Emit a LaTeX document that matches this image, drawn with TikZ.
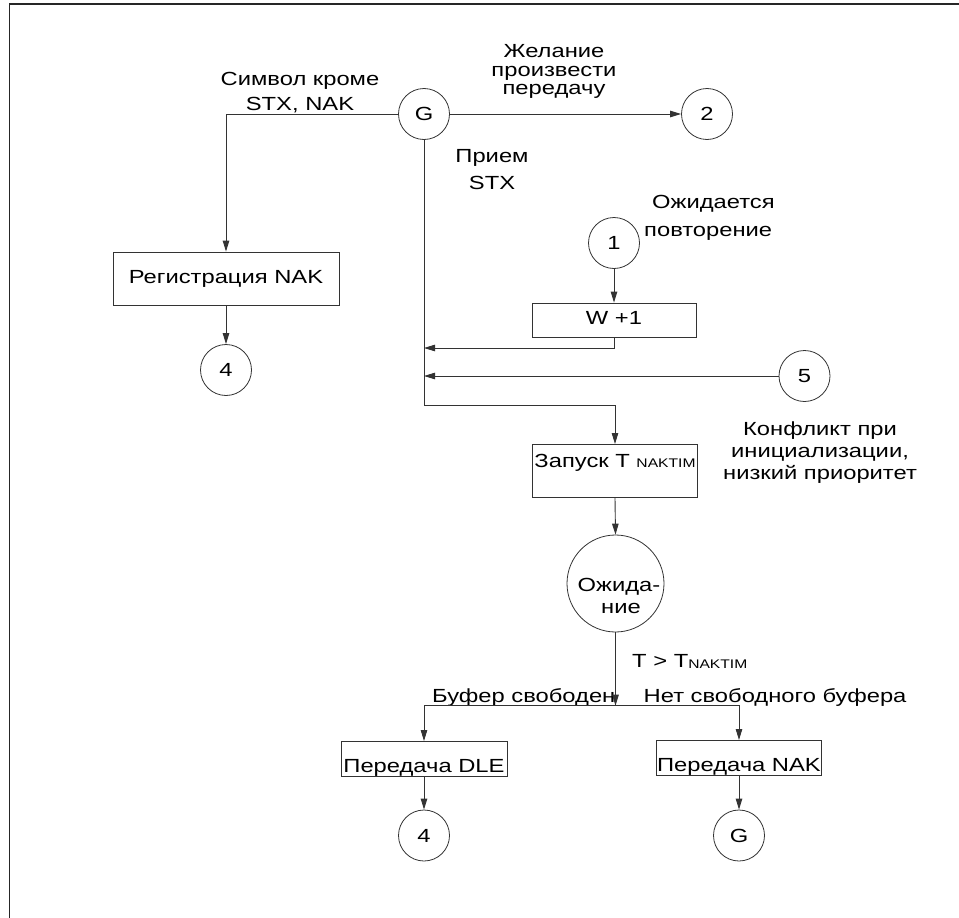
\documentclass[tikz,border=0pt]{standalone}
\usepackage{fontspec}
\setmainfont{Liberation Sans}[FakeStretch=1.25]
\usetikzlibrary{arrows.meta}
\newcommand{\fsz}{\fontsize{19}{22}\selectfont}
\newcommand{\fsmall}{\fontsize{12.5}{14}\selectfont}
\begin{document}
\begin{tikzpicture}[x=1pt,y=-1pt,
  line/.style={draw=black!80, line width=0.9pt},
  arr/.style={line, -{Triangle[length=11pt,width=6.5pt]}},
  circ/.style={draw=black!80, line width=0.8pt, circle, minimum size=51pt, inner sep=0pt, font=\fsz},
  box/.style={draw=black!80, line width=0.8pt, rectangle, inner sep=0pt, font=\fsz},
  lbl/.style={inner sep=0pt, font=\fsz, anchor=base}]
\useasboundingbox (0,0) rectangle (959,918);
\draw[line width=1.6pt, black!85] (9.5,918) -- (9.5,4) -- (959,4);

% nodes
\node[circ] (G) at (424,114) {G};
\node[circ] (c2) at (707,114) {2};
\node[box, minimum width=226pt, minimum height=53pt] (reg) at (226,278.5) {Регистрация NAK};
\node[circ] (c4a) at (226,370) {4};
\node[circ] (c1) at (614,243) {1};
\node[box, minimum width=164pt, minimum height=34pt, text height=16pt, text depth=8pt] (w1) at (614,320) {W +1};
\node[circ] (c5) at (804.5,376) {5};
\node[box, anchor=north, minimum width=165pt, inner ysep=4pt, text height=19pt, text depth=26pt] (zap) at (615,444) {Запуск T {\fsmall NAKTIM}};
\node[circ, minimum size=97pt] (wait) at (615.5,583.5) {};
\node[lbl] (waitA) at (619,591) {Ожида-};
\node[lbl] (waitB) at (621,613) {ние};
\node[box, anchor=north, minimum width=166pt, inner ysep=2pt, text height=29pt, text depth=1.5pt] (dle) at (424,741) {Передача DLE};
\node[box, anchor=north, minimum width=165pt, inner ysep=2pt, text height=29pt, text depth=1.5pt] (nak) at (739,740) {Передача NAK};
\node[circ] (c4b) at (424,835.5) {4};
\node[circ] (cG) at (739,835.5) {G};

% labels
\node[lbl] (t1) at (300,85) {Символ кроме};
\node[lbl] (t2) at (300,110) {STX, NAK};
\node[lbl] (t3) at (554,57) {Желание};
\node[lbl] (t4) at (554,76) {произвести};
\node[lbl] (t5) at (554,94) {передачу};
\node[lbl] (t6) at (492,162) {Прием};
\node[lbl] (t7) at (492,189) {STX};
\node[lbl, anchor=base west] (t8) at (652,208) {Ожидается};
\node[lbl, anchor=base west] (t9) at (644,236) {повторение};
\node[lbl] (t10) at (820,435) {Конфликт при};
\node[lbl] (t11) at (820,457) {инициализации,};
\node[lbl] (t12) at (820,479) {низкий приоритет};
\node[lbl, anchor=base west] (t13) at (632,667) {T > T\raisebox{-1.5pt}{\fsmall NAKTIM}};
\node[lbl, anchor=base west] (t14) at (432,702) {Буфер свободен};
\node[lbl, anchor=base west] (t15) at (643.5,702) {Нет свободного буфера};

% junctions
\coordinate (jA) at (424,348);
\coordinate (jB) at (424,376);
\coordinate (jC) at (424,405);
\coordinate (jD) at (615.5,705.7);

% connectors
\draw[arr] (G.west) -| (reg.north);
\draw[arr] (G.east) -- (c2.west);
\draw[arr] (reg.south) -- (c4a.north);
\draw[arr] (c1.south) -- (w1.north);
\draw[arr] (G.south) -- (jC) -| (zap.north);
\draw[arr] (w1.south) |- (jA);
\draw[arr] (c5.west) -- (jB);
\draw[arr] (zap.south) -- (wait.north);
\draw[arr] (wait.south) -- (jD);
\draw[arr] (jD) -| (dle.north);
\draw[arr] (jD) -| (nak.north);
\draw[arr] (dle.south) -- (c4b.north);
\draw[arr] (nak.south) -- (cG.north);
\end{tikzpicture}
\end{document}
